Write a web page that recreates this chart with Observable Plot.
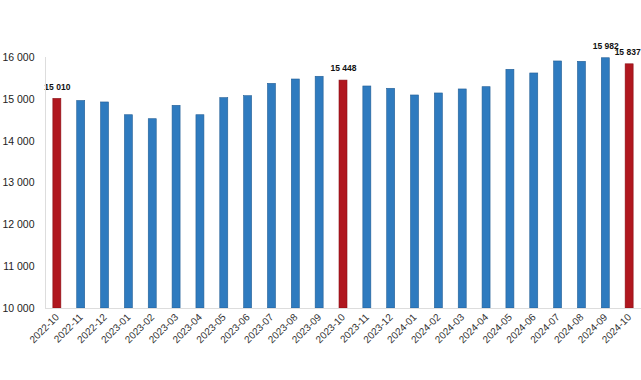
<!DOCTYPE html>
<html>
<head>
<meta charset="utf-8">
<script src="https://cdn.jsdelivr.net/npm/d3@7"></script>
<script src="https://cdn.jsdelivr.net/npm/@observablehq/plot@0.6"></script>
<style>
  html, body { margin: 0; padding: 0; background: #fff; }
  #chart svg { display: block; }
</style>
</head>
<body>
<div id="chart"></div>
<script>
const months = ["2022-10","2022-11","2022-12","2023-01","2023-02","2023-03","2023-04","2023-05","2023-06","2023-07","2023-08","2023-09","2023-10","2023-11","2023-12","2024-01","2024-02","2024-03","2024-04","2024-05","2024-06","2024-07","2024-08","2024-09","2024-10"];
const values = [15010,14960,14925,14620,14525,14845,14620,15028,15075,15370,15474,15539,15448,15307,15252,15092,15140,15236,15290,15706,15618,15905,15897,15982,15837];
const highlighted = ["2022-10","2023-10","2024-10"];
const labelled = ["2022-10","2023-10","2024-09"];
const labelledEdge = ["2024-10"];
const yTicks = [10000,11000,12000,13000,14000,15000,16000];

const fmt = d3.formatLocale({decimal: ",", thousands: " ", grouping: [3], currency: ["", ""]}).format(",d");
const data = months.map((m, i) => ({month: m, value: values[i], hi: highlighted.includes(m)}));

const chart = Plot.plot({
  width: 641,
  height: 380,
  marginLeft: 45,
  marginRight: 0,
  marginTop: 57,
  marginBottom: 72,
  style: {fontFamily: "Liberation Sans, Arial, sans-serif", background: "#fff"},
  x: {domain: months, paddingInner: 0.665, paddingOuter: 0.33, round: false, label: null},
  y: {domain: [10000, 16000], label: null},
  marks: [
    Plot.barY(data, {
      x: "month", y1: 10000, y2: "value",
      fill: d => d.hi ? "#b0171f" : "#2f7bbf",
      stroke: d => d.hi ? "#8a0f15" : "#245f96",
      strokeWidth: 0.6
    }),
    Plot.ruleY([10000], {stroke: "#dddddd", strokeWidth: 1}),
    Plot.axisY({ticks: yTicks, tickSize: 0, tickPadding: 11, tickFormat: fmt, fontSize: 10.5, fill: "#222", label: null}),
    Plot.axisX({tickSize: 0, tickRotate: -45, tickPadding: 7, fontSize: 10, fill: "#333", label: null}),
    Plot.text(data.filter(d => labelled.includes(d.month)), {
      x: "month", y: "value", text: d => fmt(d.value),
      dy: -12, fontSize: 8.5, fontWeight: "bold", fill: "#111"
    }),
    Plot.text(data.filter(d => labelledEdge.includes(d.month)), {
      x: "month", y: "value", text: d => fmt(d.value),
      dy: -12, dx: 11, textAnchor: "end", fontSize: 8.5, fontWeight: "bold", fill: "#111"
    })
  ]
});
// vertical axis line at left edge
const svg = d3.select(chart);
svg.append("line")
  .attr("x1", 45.5).attr("x2", 45.5)
  .attr("y1", 57).attr("y2", 308)
  .attr("stroke", "#dddddd");
document.getElementById("chart").appendChild(chart);
</script>
</body>
</html>
